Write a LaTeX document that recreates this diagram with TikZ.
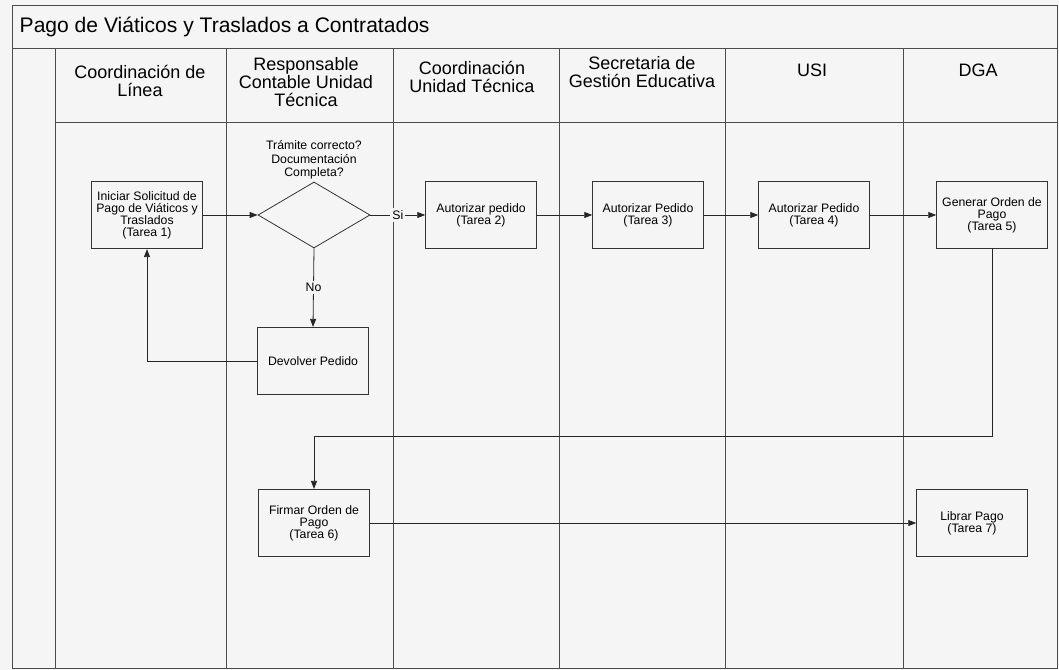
\documentclass[tikz,border=0pt]{standalone}
\usepackage{fontspec}
\setmainfont{Liberation Sans}
\usetikzlibrary{arrows.meta,shapes.geometric,positioning}

\tikzset{
  lane/.style={draw=black!70, line width=0.6pt},
  task/.style={draw=black!80, line width=0.6pt, minimum width=83pt, minimum height=50.5pt,
    align=center, inner sep=1pt, font=\fontsize{9.2}{9}\selectfont},
  decision/.style={draw=black!80, line width=0.6pt, diamond, aspect=1.7,
    minimum width=84pt, minimum height=49.5pt, inner sep=0pt},
  note/.style={align=center, inner sep=1pt, font=\fontsize{9.2}{9.8}\selectfont},
  tag/.style={fill=black!4, inner sep=1.5pt, font=\fontsize{9.2}{9}\selectfont},
  head/.style={align=center, font=\fontsize{13.5}{13.8}\selectfont},
  flow/.style={draw=black!85, line width=0.6pt, -{Triangle[length=6pt,width=4.5pt]}}
}

\begin{document}
\begin{tikzpicture}[x = .75pt, y = -.75pt]
  \fill[black!4] (0,0) rectangle (1059,670);
  \useasboundingbox (0,0) rectangle (1059,670);

  % frame, title bar and lanes
  \draw[lane] (12,5) rectangle (1057,668);
  \draw[lane] (12,48) -- (1057,48);
  \draw[lane] (55,122) -- (1057,122);
  \foreach \x in {55,226,393,559,725,903}
    \draw[lane] (\x,48) -- (\x,668);

  \node[anchor=west, font=\fontsize{15.8}{18}\selectfont] (title) at (15,27) {Pago de Viáticos y Traslados a Contratados};

  % lane headers
  \node[head] (hlinea) at (140,81) {Coordinación de\\Línea};
  \node[head] (hresp) at (306,82) {Responsable\\Contable Unidad\\Técnica};
  \node[head] (hcoord) at (472,77) {Coordinación\\Unidad Técnica};
  \node[head] (hsec) at (642,72) {Secretaria de\\Gestión Educativa};
  \node[head] (husi) at (812,70) {USI};
  \node[head] (hdga) at (978,70) {DGA};

  % tasks
  \node[task] (t1) at (147,215) {Iniciar Solicitud de\\Pago de Viáticos y\\Traslados\\(Tarea 1)};
  \node[decision] (dec) at (314,215) {};
  \node[note, above=1pt of dec] (question) {Trámite correcto?\\Documentación\\Completa?};
  \node[task] (t2) at (481,215) {Autorizar pedido\\(Tarea 2)};
  \node[task] (t3) at (648,215) {Autorizar Pedido\\(Tarea 3)};
  \node[task] (t4) at (814,215) {Autorizar Pedido\\(Tarea 4)};
  \node[task] (t5) at (992,215) {Generar Orden de\\Pago\\(Tarea 5)};
  \node[task] (dev) at (313,361) {Devolver Pedido};
  \node[task] (t6) at (314,523) {Firmar Orden de\\Pago\\(Tarea 6)};
  \node[task] (t7) at (972,523) {Librar Pago\\(Tarea 7)};
  \coordinate (turn) at (992,436);

  % flow
  \draw[flow] (t1.east) -- (dec.west);
  \draw[flow] (dec.east) -- node[tag] {Si} (t2.west);
  \draw[flow] (dec.south) -- node[tag] {No} (dev.north);
  \draw[flow] (dev.west) -| (t1.south);
  \draw[flow] (t2.east) -- (t3.west);
  \draw[flow] (t3.east) -- (t4.west);
  \draw[flow] (t4.east) -- (t5.west);
  \draw[flow] (t5.south) -- (turn) -| (t6.north);
  \draw[flow] (t6.east) -- (t7.west);
\end{tikzpicture}
\end{document}
